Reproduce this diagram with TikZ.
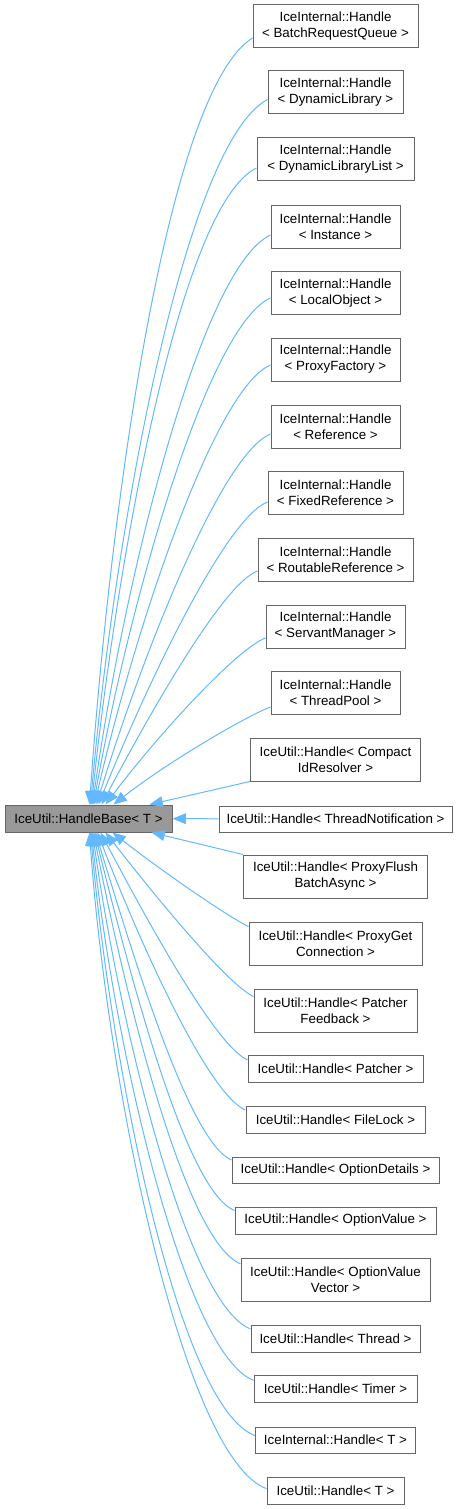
\documentclass[tikz,border=0pt]{standalone}
\usepackage{fontspec}
\setmainfont{Liberation Sans}
\usetikzlibrary{arrows.meta}

\definecolor{edgeblue}{HTML}{63B8FF}
\definecolor{boxline}{HTML}{666666}
\definecolor{basefill}{HTML}{999999}

\tikzset{
  cls/.style={draw=boxline, fill=white, line width=0.75pt, align=center,
    inner sep=0pt, font=\fontsize{10}{12}\selectfont},
  basecls/.style={cls, fill=basefill},
  edge/.style={draw=edgeblue, line width=0.75pt,
    -{Triangle[length=10pt,width=8pt]}},
}

\begin{document}
\begin{tikzpicture}[x=0.75pt,y=0.75pt]
        \useasboundingbox (0,0) rectangle (457,-1509);

        % Basisklasse
        \node[basecls, minimum width=167*0.75pt, minimum height=27*0.75pt] (base) at (88.5,-818.5) {IceUtil::HandleBase< T >};

        % abgeleitete Klassen
        \foreach \n/\ypos/\bw/\bh/\lbl in {
          bq/26.5/165/43/{IceInternal::Handle\\< BatchRequestQueue >},
          dl/92.5/135/43/{IceInternal::Handle\\< DynamicLibrary >},
          dll/159.5/157/43/{IceInternal::Handle\\< DynamicLibraryList >},
          inst/226.5/129/43/{IceInternal::Handle\\< Instance >},
          lo/293/129/43/{IceInternal::Handle\\< LocalObject >},
          pf/359.5/129/43/{IceInternal::Handle\\< ProxyFactory >},
          ref/426.5/129/43/{IceInternal::Handle\\< Reference >},
          fr/493/135/43/{IceInternal::Handle\\< FixedReference >},
          rr/559.5/155/43/{IceInternal::Handle\\< RoutableReference >},
          sm/626.5/139/43/{IceInternal::Handle\\< ServantManager >},
          tp/693/129/43/{IceInternal::Handle\\< ThreadPool >},
          cid/759.5/170/43/{IceUtil::Handle< Compact\\IdResolver >},
          tn/819/233/26/{IceUtil::Handle< ThreadNotification >},
          pfb/876.5/184/43/{IceUtil::Handle< ProxyFlush\\BatchAsync >},
          pgc/943.5/173/43/{IceUtil::Handle< ProxyGet\\Connection >},
          pfd/1010.5/163/43/{IceUtil::Handle< Patcher\\Feedback >},
          pat/1068.5/175/27/{IceUtil::Handle< Patcher >},
          fl/1119.5/179/27/{IceUtil::Handle< FileLock >},
          od/1170/207/26/{IceUtil::Handle< OptionDetails >},
          ov/1220.5/201/27/{IceUtil::Handle< OptionValue >},
          ovv/1279.5/189/43/{IceUtil::Handle< OptionValue\\Vector >},
          th/1338.5/169/27/{IceUtil::Handle< Thread >},
          tm/1388.5/163/27/{IceUtil::Handle< Timer >},
          iht/1440/160/26/{IceInternal::Handle< T >},
          uht/1490.5/137/27/{IceUtil::Handle< T >}}
          \node[cls, minimum width=\bw*0.75pt, minimum height=\bh*0.75pt] (\n) at (335.5,-\ypos) {\lbl};

        % Kanten von oben
        \foreach \n/\s/\o/\i/\e in {bq/-11.5/212/86/85, dl/-7/208/85/86,
          dll/-8.5/206/84/87, inst/-8.5/205/82/88, lo/-5/204/80/89,
          pf/-5.5/203/77/90, ref/-7.5/202/73/92, fr/-9/201/68/94,
          rr/-11.5/200/62/97, sm/-11.5/200/53/101, tp/-14/200/38/109}
          \draw[edge] ([yshift=\s*0.75pt]\n.west) to[out=\o, in=\i, out looseness=0.33, in looseness=0.97] ([xshift=\e*0.75pt]base.north west);

        % Kanten von unten
        \foreach \n/\s/\o/\i/\e in {pgc/17/155/-38/108, pfd/14/155/-52/101,
          pat/8.6/156/-62/96, fl/9.4/157/-69/93, od/10/157/-73/91,
          ov/10/158/-76/90, ovv/15.7/158/-79/89, th/9.6/159/-82/88,
          tm/8.2/159/-84/87, iht/4.5/160/-85/86, uht/1.9/160/-86/85}
          \draw[edge] ([yshift=\s*0.75pt]\n.west) to[out=\o, in=\i, out looseness=0.33, in looseness=0.97] ([xshift=\e*0.75pt]base.south west);

        % gerade Kanten
        \draw[edge] (cid.south west) -- ([xshift=145*0.75pt]base.north west);
        \draw[edge] (tn) -- (base);
        \draw[edge] (pfb.north west) -- ([xshift=147*0.75pt]base.south west);
    \end{tikzpicture}
\end{document}
